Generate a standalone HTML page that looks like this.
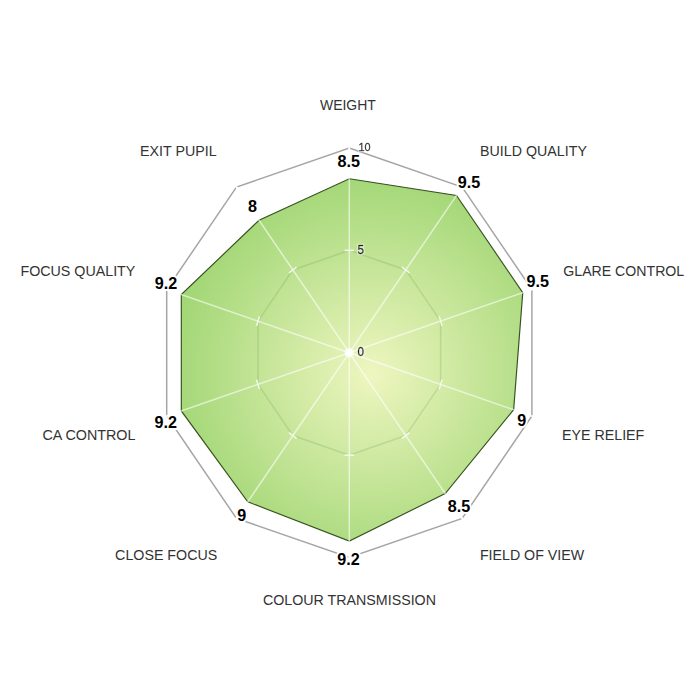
<!DOCTYPE html>
<html><head><meta charset="utf-8"><title>Radar chart</title>
<style>
html,body{margin:0;padding:0;background:#fff;}
body{width:700px;height:700px;overflow:hidden;}
svg{display:block;}
text{font-family:"Liberation Sans",Arial,sans-serif;}
.cat{font-size:15.4px;fill:#333;}
.val{font-size:17px;font-weight:bold;fill:#000;stroke:#fff;stroke-width:4px;paint-order:stroke;stroke-linejoin:round;}
.tk{font-size:12.4px;fill:#1c1c1c;stroke:#1c1c1c;stroke-width:0.5px;filter:url(#halo);}
</style></head><body>
<svg width="700" height="700" viewBox="0 0 700 700">
<defs>
<radialGradient id="g" gradientUnits="userSpaceOnUse" cx="372" cy="374" r="230">
<stop offset="0" stop-color="#eef6c0"/>
<stop offset="1" stop-color="#97d26b"/>
</radialGradient>
<filter id="halo" x="-30%" y="-30%" width="160%" height="160%"><feMorphology in="SourceAlpha" operator="dilate" radius="1.1" result="d"/><feGaussianBlur in="d" stdDeviation="0.5" result="b"/><feFlood flood-color="#fff" flood-opacity="0.5"/><feComposite in2="b" operator="in"/><feMerge><feMergeNode/><feMergeNode in="SourceGraphic"/></feMerge></filter>
<radialGradient id="dot" cx="0.5" cy="0.5" r="0.5">
<stop offset="0.6" stop-color="#fff" stop-opacity="1"/>
<stop offset="1" stop-color="#fff" stop-opacity="0"/>
</radialGradient>
</defs>
<rect width="700" height="700" fill="#fff"/>
<polygon points="349.30,148.05 462.15,187.14 531.90,289.49 531.90,416.01 462.15,518.36 349.30,557.45 236.45,518.36 166.70,416.01 166.70,289.49 236.45,187.14" fill="none" stroke="#a6a6a6" stroke-width="1.5"/>
<polygon points="349.30,178.76 456.51,195.42 522.77,292.66 513.64,409.68 445.23,493.51 349.30,541.07 247.73,501.80 181.31,410.95 181.31,294.55 259.02,220.27" fill="url(#g)" stroke="#36521f" stroke-width="1.15" stroke-linejoin="miter"/>
<polygon points="349.30,250.40 405.73,269.95 440.60,321.12 440.60,384.38 405.73,435.55 349.30,455.10 292.87,435.55 258.00,384.38 258.00,321.12 292.87,269.95" fill="none" stroke="#4a7a30" stroke-opacity="0.17" stroke-width="1.5"/>
<g stroke="#fff" stroke-opacity="0.6" stroke-width="1.5"><line x1="349.30" y1="352.75" x2="349.30" y2="148.05"/><line x1="349.30" y1="352.75" x2="462.15" y2="187.14"/><line x1="349.30" y1="352.75" x2="531.90" y2="289.49"/><line x1="349.30" y1="352.75" x2="531.90" y2="416.01"/><line x1="349.30" y1="352.75" x2="462.15" y2="518.36"/><line x1="349.30" y1="352.75" x2="349.30" y2="557.45"/><line x1="349.30" y1="352.75" x2="236.45" y2="518.36"/><line x1="349.30" y1="352.75" x2="166.70" y2="416.01"/><line x1="349.30" y1="352.75" x2="166.70" y2="289.49"/><line x1="349.30" y1="352.75" x2="236.45" y2="187.14"/></g>
<g stroke="#fff" stroke-width="1.8"><line x1="349.30" y1="150.51" x2="349.30" y2="145.59"/><line x1="460.80" y1="189.13" x2="463.51" y2="185.16"/><line x1="529.71" y1="290.25" x2="534.09" y2="288.74"/><line x1="529.71" y1="415.25" x2="534.09" y2="416.76"/><line x1="460.80" y1="516.37" x2="463.51" y2="520.34"/><line x1="349.30" y1="554.99" x2="349.30" y2="559.91"/><line x1="237.80" y1="516.37" x2="235.09" y2="520.34"/><line x1="168.89" y1="415.25" x2="164.51" y2="416.76"/><line x1="168.89" y1="290.25" x2="164.51" y2="288.74"/><line x1="237.80" y1="189.13" x2="235.09" y2="185.16"/></g>
<g stroke="#fff" stroke-opacity="0.8" stroke-width="1.6"><line x1="344.60" y1="250.40" x2="354.00" y2="250.40"/><line x1="401.93" y1="267.01" x2="409.53" y2="272.89"/><line x1="439.15" y1="316.37" x2="442.05" y2="325.88"/><line x1="442.05" y1="379.62" x2="439.15" y2="389.13"/><line x1="409.53" y1="432.61" x2="401.93" y2="438.49"/><line x1="354.00" y1="455.10" x2="344.60" y2="455.10"/><line x1="296.67" y1="438.49" x2="289.07" y2="432.61"/><line x1="259.45" y1="389.13" x2="256.55" y2="379.62"/><line x1="256.55" y1="325.88" x2="259.45" y2="316.37"/><line x1="289.07" y1="272.89" x2="296.67" y2="267.01"/></g>
<circle cx="349.3" cy="352.75" r="5.5" fill="url(#dot)"/>
<text class="cat" transform="translate(320.00,110.00) scale(0.9081,1)">WEIGHT</text>
<text class="cat" transform="translate(480.08,156.00) scale(0.9246,1)">BUILD QUALITY</text>
<text class="cat" transform="translate(563.30,275.60) scale(0.9189,1)">GLARE CONTROL</text>
<text class="cat" transform="translate(561.98,440.00) scale(0.9250,1)">EYE RELIEF</text>
<text class="cat" transform="translate(479.88,559.60) scale(0.9241,1)">FIELD OF VIEW</text>
<text class="cat" transform="translate(262.90,605.00) scale(0.9258,1)">COLOUR TRANSMISSION</text>
<text class="cat" transform="translate(115.10,559.50) scale(0.9255,1)">CLOSE FOCUS</text>
<text class="cat" transform="translate(42.40,440.00) scale(0.9300,1)">CA CONTROL</text>
<text class="cat" transform="translate(20.47,275.50) scale(0.9268,1)">FOCUS QUALITY</text>
<text class="cat" transform="translate(140.07,156.00) scale(0.9268,1)">EXIT PUPIL</text>
<text class="val" transform="translate(337.60,166.50) scale(0.9500,1)">8.5</text>
<text class="val" transform="translate(457.85,187.50) scale(0.9500,1)">9.5</text>
<text class="val" transform="translate(526.60,287.00) scale(0.9500,1)">9.5</text>
<text class="val" transform="translate(517.33,425.50) scale(0.9500,1)">9</text>
<text class="val" transform="translate(447.75,512.00) scale(0.9500,1)">8.5</text>
<text class="val" transform="translate(337.35,564.50) scale(0.9500,1)">9.2</text>
<text class="val" transform="translate(237.22,520.50) scale(0.9500,1)">9</text>
<text class="val" transform="translate(154.60,427.50) scale(0.9500,1)">9.2</text>
<text class="val" transform="translate(154.85,289.00) scale(0.9500,1)">9.2</text>
<text class="val" transform="translate(247.88,212.00) scale(0.9500,1)">8</text>
<text class="tk" style="font-size:11.6px;stroke-width:0.4px" text-anchor="start" transform="translate(358.40,151.20) scale(0.94,1)">10</text>
<text class="tk" text-anchor="start" transform="translate(357.60,254.00) scale(0.94,1)">5</text>
<text class="tk" text-anchor="start" transform="translate(357.40,356.30) scale(0.94,1)">0</text>
</svg>
</body></html>
